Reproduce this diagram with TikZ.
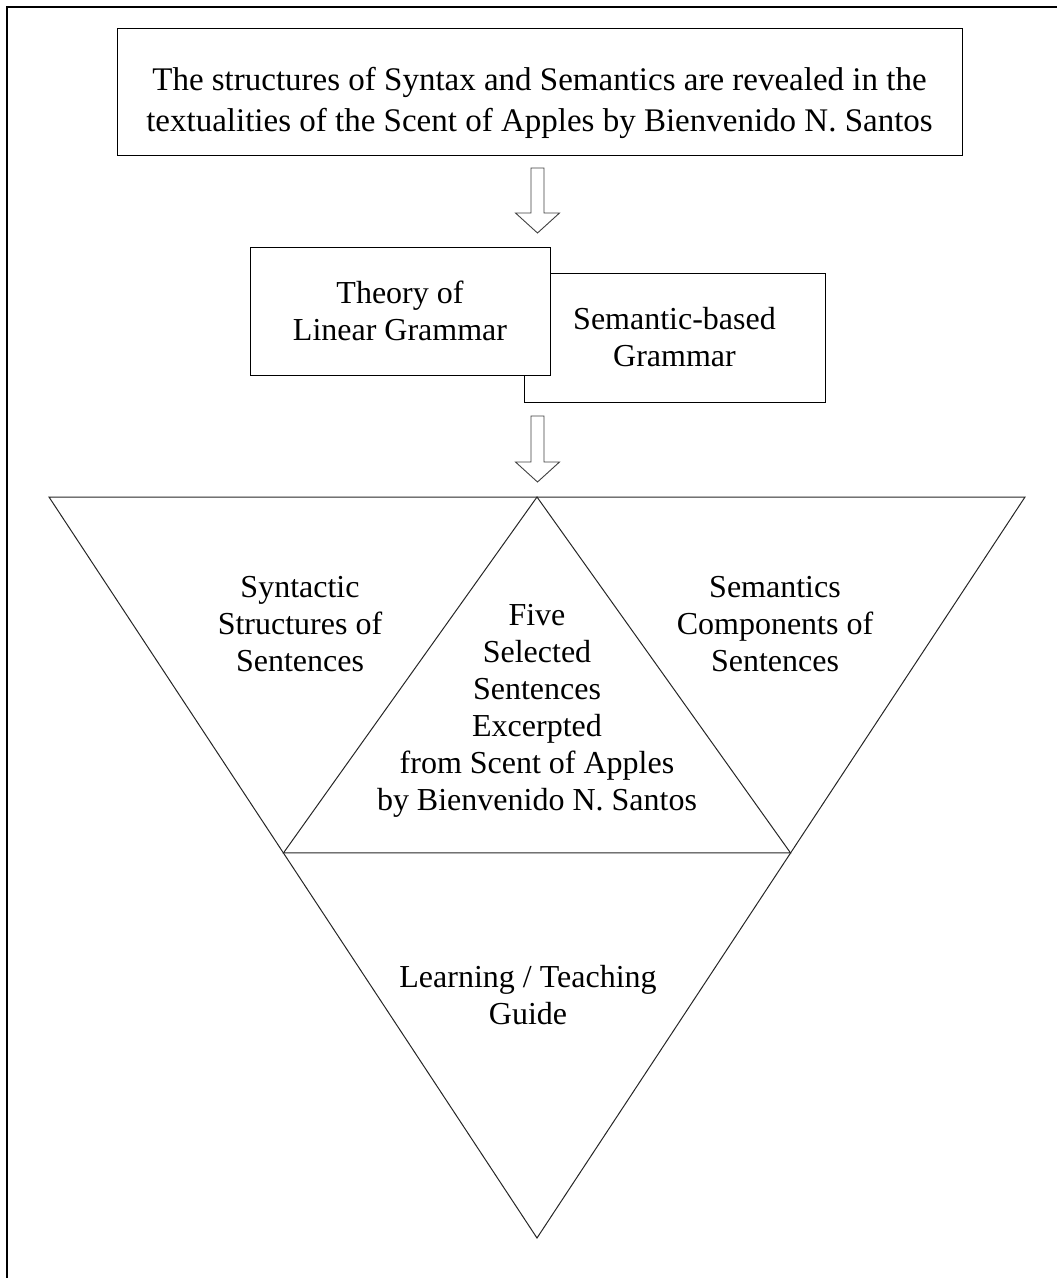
\documentclass[tikz,border=0pt]{standalone}
\usepackage{fontspec}
\setmainfont{Liberation Serif}
\usetikzlibrary{calc}
\begin{document}
\begin{tikzpicture}[x=1pt,y=-1pt,
  box/.style={draw=black, line width=1pt, fill=white, align=center, inner sep=0pt,
    font=\fontsize{32}{37}\selectfont},
  lbl/.style={align=center, inner sep=0pt, font=\fontsize{32}{37}\selectfont},
  blockarrow/.style={draw=black!75, line width=0.9pt, fill=white},
  tri/.style={draw=black!85, line width=1pt}]
\useasboundingbox (0,0) rectangle (1057,1278);
% page frame (top and left edges)
\draw[line width=1.3pt] (7,1278) -- (7,7) -- (1057,7);

% top box
\node[box, minimum width=845, minimum height=127] (top) at (539.5,91.5) {};
\node[lbl, font=\fontsize{33}{41}\selectfont] (toptext) at (539.5,103)
  {The structures of Syntax and Semantics are revealed in the\\
   textualities of the Scent of Apples by Bienvenido N. Santos};

% second-level boxes (Semantic box behind the Theory box)
\node[box, minimum width=301, minimum height=129] (sem) at (674.5,337.5)
  {Semantic-based\\Grammar};
\node[box, minimum width=300, minimum height=128] (lin) at (400,311)
  {Theory of\\Linear Grammar};

% triangles
\coordinate (tl) at (49,497);
\coordinate (tr) at (1025,497);
\coordinate (ap) at (537,1238);
\coordinate (tm) at ($(tl)!0.5!(tr)$);
\coordinate (lm) at ($(tl)!0.4804!(ap)$);
\coordinate (rm) at ($(tr)!0.4804!(ap)$);
\draw[tri] (tl) -- (tr) -- (ap) -- cycle;
\draw[tri] (tm) -- (lm) -- (rm) -- cycle;

% block arrows
\coordinate (a1) at (537.5,168);
\coordinate (a2) at (537.5,416);
\draw[blockarrow] ($(a1)+(-6.5,0)$) -- ($(a1)+(6.5,0)$) -- ($(a1)+(6.5,45)$)
  -- ($(a1)+(22,45)$) -- ($(a1)+(0,65)$) -- ($(a1)+(-22,45)$) -- ($(a1)+(-6.5,45)$) -- cycle;
\draw[blockarrow] ($(a2)+(-6.5,0)$) -- ($(a2)+(6.5,0)$) -- ($(a2)+(6.5,46)$)
  -- ($(a2)+(22,46)$) -- ($(a2)+(0,66)$) -- ($(a2)+(-22,46)$) -- ($(a2)+(-6.5,46)$) -- cycle;

% triangle labels
\node[lbl] (syn) at (300,624) {Syntactic\\Structures of\\Sentences};
\node[lbl] (semc) at (775,624) {Semantics\\Components of\\Sentences};
\node[lbl] (five) at (537,711) {Five\\Selected\\Sentences\\Excerpted\\from Scent of Apples\\by Bienvenido N. Santos};
\node[lbl] (learn) at (528,995) {Learning / Teaching\\Guide};
\end{tikzpicture}
\end{document}
